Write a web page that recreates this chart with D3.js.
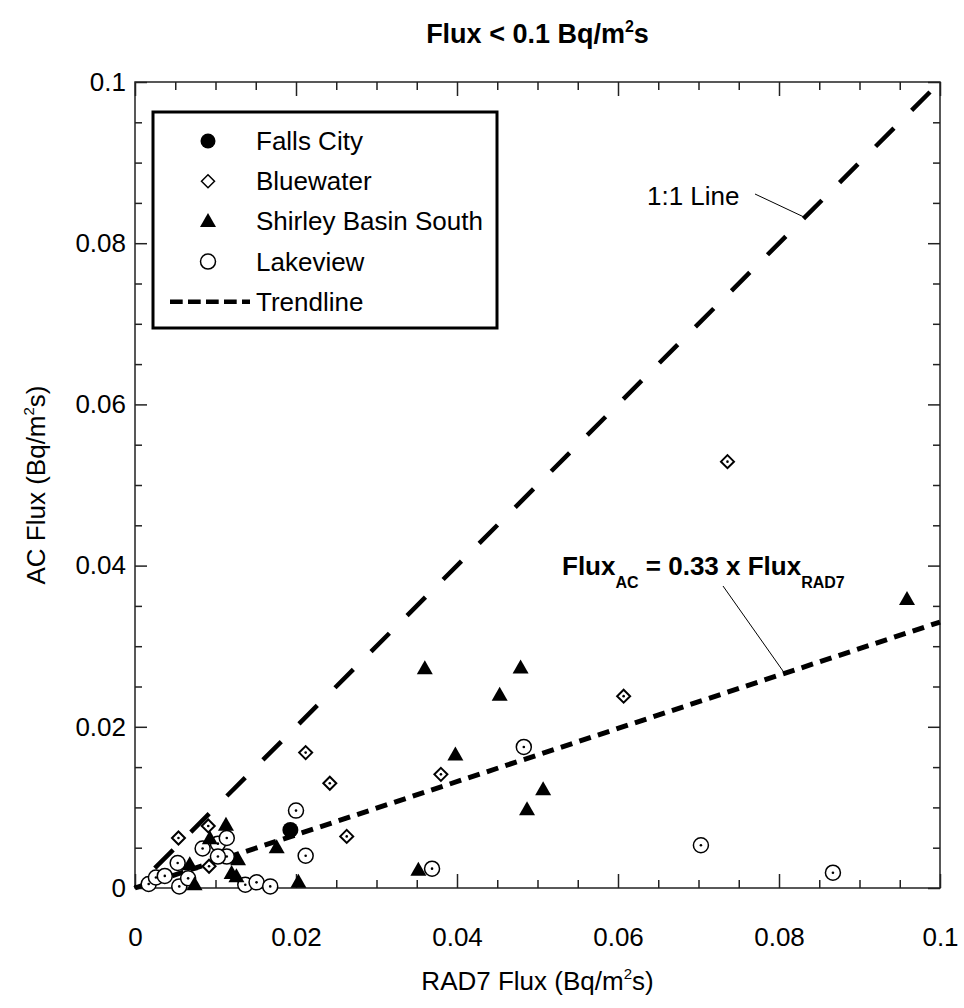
<!DOCTYPE html>
<html>
<head>
<meta charset="utf-8">
<script src="https://cdn.jsdelivr.net/npm/d3@7"></script>
<style>
  body { margin: 0; background: #fff; }
  svg { display: block; font-family: "Liberation Sans", Arial, sans-serif; }
  .tick text { font-size: 26px; fill: #000; }
  .tick line { stroke: #222; stroke-width: 1.5; }
</style>
</head>
<body>
<div id="wrapper"></div>
<script>
// data (RAD7 flux, AC flux), Bq/m2s
const fallsCityX = [0.0193]
const fallsCityY = [0.0072]

const bluewaterX = [0.0054, 0.0091, 0.0092, 0.0212, 0.0242, 0.0263, 0.038, 0.0607, 0.0736]
const bluewaterY = [0.0062, 0.0077, 0.0027, 0.0168, 0.013, 0.0064, 0.0141, 0.0238, 0.0529]

const shirleyX = [0.0068, 0.0074, 0.0093, 0.0113, 0.012, 0.0126, 0.0128, 0.0176, 0.0203,
  0.0352, 0.036, 0.0398, 0.0453, 0.0479, 0.0487, 0.0507, 0.0959]
const shirleyY = [0.0029, 0.0004, 0.0061, 0.0078, 0.0018, 0.0014, 0.0035, 0.005, 0.0007,
  0.0022, 0.0272, 0.0165, 0.0239, 0.0273, 0.0097, 0.0122, 0.0358]

const lakeviewX = [0.0017, 0.0026, 0.0037, 0.0053, 0.0055, 0.0066, 0.0084, 0.0103, 0.0114,
  0.0114, 0.0103, 0.0137, 0.0151, 0.0168, 0.02, 0.0212, 0.0369, 0.0483, 0.0703, 0.0867]
const lakeviewY = [0.0005, 0.0013, 0.0015, 0.0031, 0.0002, 0.0012, 0.0049, 0.0055, 0.0062,
  0.0039, 0.0039, 0.0004, 0.0007, 0.0002, 0.0096, 0.004, 0.0024, 0.0175, 0.0053, 0.0019]

const trendSlope = 0.33
const lineExtent = [0, 0.1]
const majorTicks = [0, 0.02, 0.04, 0.06, 0.08, 0.1]
const minorTicks = [0.005, 0.01, 0.015, 0.025, 0.03, 0.035, 0.045, 0.05, 0.055,
  0.065, 0.07, 0.075, 0.085, 0.09, 0.095]
const legendLabels = ["Falls City", "Bluewater", "Shirley Basin South", "Lakeview", "Trendline"]

const zip = (xs, ys) => xs.map((v, i) => ({ x: v, y: ys[i] }))

// dimensions
const dimensions = {
  width: 964,
  height: 1008,
  margin: { top: 82, right: 24, bottom: 120, left: 135 },
}
dimensions.boundedWidth = dimensions.width - dimensions.margin.left - dimensions.margin.right
dimensions.boundedHeight = dimensions.height - dimensions.margin.top - dimensions.margin.bottom

const svg = d3.select("#wrapper").append("svg")
  .attr("width", dimensions.width)
  .attr("height", dimensions.height)

const bounds = svg.append("g")
  .attr("transform", `translate(${dimensions.margin.left},${dimensions.margin.top})`)

const xScale = d3.scaleLinear().domain([0, 0.1]).range([0, dimensions.boundedWidth])
const yScale = d3.scaleLinear().domain([0, 0.1]).range([dimensions.boundedHeight, 0])

const fmt = (d) => String(+d.toFixed(3))

// axes, ticks pointing inward
const drawAxis = (axis, transform) => {
  const g = bounds.append("g").attr("transform", transform).call(axis)
  g.select(".domain").remove()
  return g
}
const W = dimensions.boundedWidth
const H = dimensions.boundedHeight

drawAxis(d3.axisBottom(xScale).tickValues(majorTicks).tickSizeInner(-14).tickSizeOuter(0)
  .tickPadding(42).tickFormat(fmt), `translate(0,${H})`)
  .selectAll("text").attr("y", 40)
drawAxis(d3.axisBottom(xScale).tickValues(minorTicks).tickSizeInner(-8).tickSizeOuter(0)
  .tickFormat(""), `translate(0,${H})`)
drawAxis(d3.axisTop(xScale).tickValues(majorTicks).tickSizeInner(-14).tickSizeOuter(0)
  .tickFormat(""), "translate(0,0)")
drawAxis(d3.axisTop(xScale).tickValues(minorTicks).tickSizeInner(-8).tickSizeOuter(0)
  .tickFormat(""), "translate(0,0)")
drawAxis(d3.axisLeft(yScale).tickValues(majorTicks).tickSizeInner(-12).tickSizeOuter(0)
  .tickPadding(9).tickFormat(fmt), "translate(0,0)")
drawAxis(d3.axisLeft(yScale).tickValues(minorTicks).tickSizeInner(-7).tickSizeOuter(0)
  .tickFormat(""), "translate(0,0)")
drawAxis(d3.axisRight(yScale).tickValues(majorTicks).tickSizeInner(-12).tickSizeOuter(0)
  .tickFormat(""), `translate(${W},0)`)
drawAxis(d3.axisRight(yScale).tickValues(minorTicks).tickSizeInner(-7).tickSizeOuter(0)
  .tickFormat(""), `translate(${W},0)`)

bounds.append("rect")
  .attr("width", W).attr("height", H)
  .attr("fill", "none").attr("stroke", "#222").attr("stroke-width", 1.5)

// 1:1 line and trendline
const lineGen = d3.line().x((d) => xScale(d.x)).y((d) => yScale(d.y))

bounds.append("path")
  .attr("d", lineGen(lineExtent.map((v) => ({ x: v, y: v }))))
  .attr("fill", "none").attr("stroke", "#000").attr("stroke-width", 4.5)
  .attr("stroke-dasharray", "26,25").attr("stroke-dashoffset", 23)

bounds.append("path")
  .attr("d", lineGen(lineExtent.map((v) => ({ x: v, y: v * trendSlope }))))
  .attr("fill", "none").attr("stroke", "#000").attr("stroke-width", 5)
  .attr("stroke-dasharray", "12,7.5")

// markers
const drawDot = (g) => g.append("circle").attr("r", 1.3).attr("fill", "#000")

const lakeG = bounds.append("g")
lakeG.selectAll("g").data(zip(lakeviewX, lakeviewY)).join("g")
  .attr("transform", (d) => `translate(${xScale(d.x)},${yScale(d.y)})`)
  .call((g) => g.append("circle").attr("r", 7.5).attr("fill", "#fff")
    .attr("stroke", "#000").attr("stroke-width", 1.5))
  .call(drawDot)

const blueG = bounds.append("g")
blueG.selectAll("g").data(zip(bluewaterX, bluewaterY)).join("g")
  .attr("transform", (d) => `translate(${xScale(d.x)},${yScale(d.y)})`)
  .call((g) => g.append("path").attr("d", "M0,-6.5L6.5,0L0,6.5L-6.5,0Z").attr("fill", "#fff")
    .attr("stroke", "#000").attr("stroke-width", 2))
  .call(drawDot)

const triPath = "M0,-8.5L8,5.5L-8,5.5Z"
bounds.append("g").selectAll("path").data(zip(shirleyX, shirleyY)).join("path")
  .attr("transform", (d) => `translate(${xScale(d.x)},${yScale(d.y)})`)
  .attr("d", triPath).attr("fill", "#000")

bounds.append("g").selectAll("circle").data(zip(fallsCityX, fallsCityY)).join("circle")
  .attr("cx", (d) => xScale(d.x)).attr("cy", (d) => yScale(d.y))
  .attr("r", 8).attr("fill", "#000")

// annotations
const note11 = bounds.append("g")
note11.append("text").attr("x", 647 - 135).attr("y", 205 - 82)
  .attr("font-size", 26).text("1:1 Line")
note11.append("line")
  .attr("x1", 755 - 135).attr("y1", 194 - 82)
  .attr("x2", xScale(0.0832)).attr("y2", yScale(0.0832))
  .attr("stroke", "#000").attr("stroke-width", 1)

const eq = bounds.append("text").attr("x", 562 - 135).attr("y", 575 - 82)
  .attr("font-size", 26).attr("font-weight", "bold")
eq.append("tspan").text("Flux")
eq.append("tspan").attr("font-size", 16).attr("dy", 13).text("AC")
eq.append("tspan").attr("dy", -13).text(" = 0.33 x Flux")
eq.append("tspan").attr("font-size", 16).attr("dy", 13).text("RAD7")
bounds.append("line")
  .attr("x1", 723 - 135).attr("y1", 586 - 82)
  .attr("x2", xScale(0.0807)).attr("y2", yScale(0.0807 * trendSlope))
  .attr("stroke", "#000").attr("stroke-width", 1)

// legend
const legend = svg.append("g").attr("transform", "translate(153,112)")
legend.append("rect").attr("width", 344).attr("height", 216)
  .attr("fill", "#fff").attr("stroke", "#000").attr("stroke-width", 3)

const rowY = (i) => 29 + i * 40.2
const symX = 55
legend.append("circle").attr("cx", symX).attr("cy", rowY(0)).attr("r", 7.5).attr("fill", "#000")
legend.append("path").attr("transform", `translate(${symX},${rowY(1)})`)
  .attr("d", "M0,-6.5L6.5,0L0,6.5L-6.5,0Z").attr("fill", "#fff")
  .attr("stroke", "#000").attr("stroke-width", 1.5)
legend.append("path").attr("transform", `translate(${symX},${rowY(2)})`)
  .attr("d", triPath).attr("fill", "#000")
legend.append("circle").attr("cx", symX).attr("cy", rowY(3)).attr("r", 7.5)
  .attr("fill", "#fff").attr("stroke", "#000").attr("stroke-width", 1.5)
legend.append("line").attr("x1", 17).attr("x2", 97).attr("y1", rowY(4)).attr("y2", rowY(4))
  .attr("stroke", "#000").attr("stroke-width", 4.5).attr("stroke-dasharray", "12.7,5.3")

legend.selectAll("text.label").data(legendLabels).join("text")
  .attr("class", "label")
  .attr("x", 103).attr("y", (d, i) => rowY(i) + 9)
  .attr("font-size", 26).text((d) => d)

// titles
const title = svg.append("text").attr("x", 537.5).attr("y", 43)
  .attr("text-anchor", "middle").attr("font-size", 27).attr("font-weight", "bold")
title.append("tspan").text("Flux < 0.1 Bq/m")
title.append("tspan").attr("font-size", 16).attr("dy", -11).text("2")
title.append("tspan").attr("dy", 11).text("s")

const xLabel = svg.append("text").attr("x", 537.5).attr("y", 990)
  .attr("text-anchor", "middle").attr("font-size", 26)
xLabel.append("tspan").text("RAD7 Flux (Bq/m")
xLabel.append("tspan").attr("font-size", 15).attr("dy", -11).text("2")
xLabel.append("tspan").attr("dy", 11).text("s)")

const yLabel = svg.append("text").attr("transform", "translate(45,485) rotate(-90)")
  .attr("text-anchor", "middle").attr("font-size", 26)
yLabel.append("tspan").text("AC Flux (Bq/m")
yLabel.append("tspan").attr("font-size", 15).attr("dy", -11).text("2")
yLabel.append("tspan").attr("dy", 11).text("s)")
</script>
</body>
</html>
